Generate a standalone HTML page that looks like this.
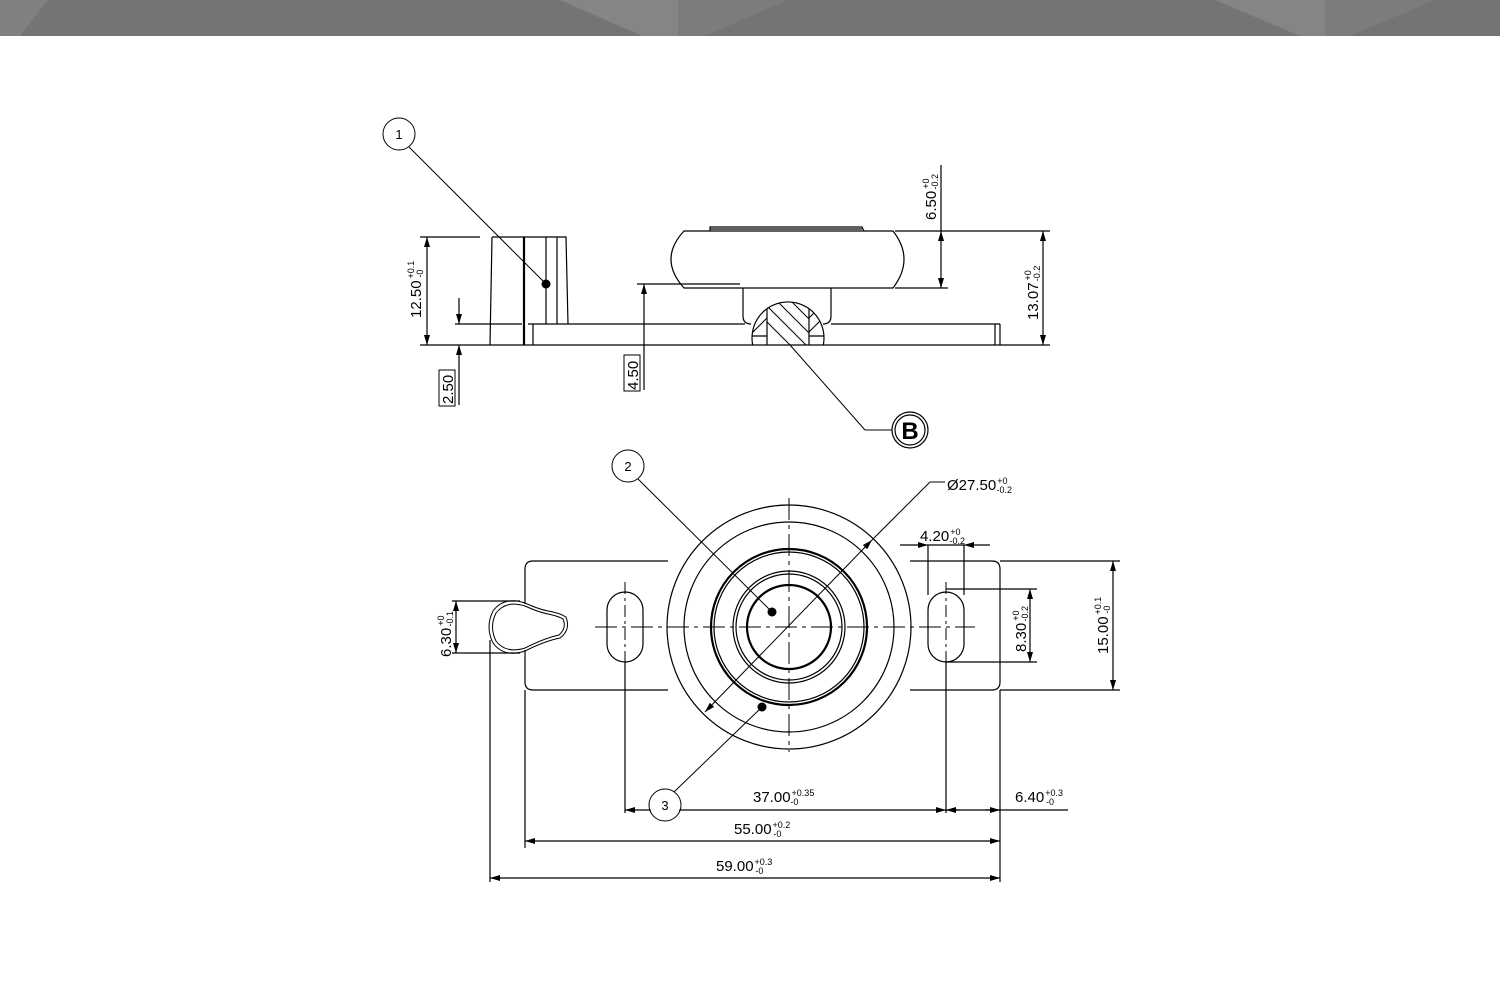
<!DOCTYPE html>
<html><head><meta charset="utf-8"><style>
html,body{margin:0;padding:0;background:#fff;width:1500px;height:1000px;overflow:hidden}
svg{display:block}
text{font-family:"Liberation Sans",sans-serif;fill:#000}
</style></head><body>
<svg width="1500" height="1000" viewBox="0 0 1500 1000" xmlns="http://www.w3.org/2000/svg">
<defs>
<marker id="a" viewBox="0 0 10 6" refX="10" refY="3" markerWidth="10" markerHeight="6" markerUnits="userSpaceOnUse" orient="auto-start-reverse"><path d="M0,0L10,3L0,6z" fill="#000"/></marker>
<clipPath id="ball"><path d="M752.7,345 A36,36 0 1 1 823.3,345 Z"/></clipPath>
</defs>
<!-- banner -->
<rect x="0" y="0" width="1500" height="36" fill="#747474"/>
<polygon points="0,0 48,0 20,36 0,36" fill="#808080"/>
<polygon points="560,0 678,0 678,36 642,36" fill="#858585"/>
<polygon points="678,0 788,0 705,36 678,36" fill="#7c7c7c"/>
<polygon points="1215,0 1325,0 1325,36 1300,36" fill="#858585"/>
<polygon points="1325,0 1435,0 1350,36 1325,36" fill="#7c7c7c"/>

<g stroke="#000" fill="none" stroke-width="1.2">
<!-- TOP VIEW -->
<line x1="420" y1="345" x2="1050" y2="345"/>
<line x1="455" y1="324" x2="522" y2="324"/>
<line x1="528" y1="324" x2="745" y2="324"/>
<line x1="831" y1="324" x2="1000" y2="324"/>
<line x1="533" y1="324" x2="533" y2="345"/>
<line x1="995" y1="324" x2="995" y2="345"/>
<line x1="1000" y1="324" x2="1000" y2="345"/>
<line x1="420" y1="237" x2="480" y2="237"/>
<path d="M492,237 L490,345 M492,237 L566,237 L568,324"/>
<line x1="524" y1="237" x2="524" y2="345" stroke-width="2.2"/>
<line x1="546" y1="237" x2="546" y2="324"/>
<line x1="557" y1="237" x2="557" y2="324"/>
<path d="M684,231 L893,231 Q915,259 893,288 L684,288 Q658,259 684,231 Z"/>
<path d="M710,231 L710,227 L862,227 L864,231"/>
<line x1="710" y1="229" x2="862" y2="229"/>
<path d="M743,288 L743,316 Q743,324 751,324 M831,288 L831,316 Q831,324 823,324"/>
<path d="M752.7,345 A36,36 0 1 1 823.3,345"/>
<g clip-path="url(#ball)">
<line x1="767" y1="300" x2="767" y2="345"/><line x1="809" y1="300" x2="809" y2="345"/>
<line x1="752" y1="336" x2="767" y2="336"/><line x1="809" y1="336" x2="824" y2="336"/>
<path d="M767,306 L806,345 M775,299 L809,333 M789,299 L809,319 M767,322 L790,345 M750,335 L767,318 M809,318 L826,301 M809,332 L826,315" stroke-width="1"/>
</g>
<line x1="790" y1="345" x2="865" y2="430" stroke-width="1"/>
<line x1="865" y1="430" x2="892" y2="430" stroke-width="1"/>
<circle cx="910" cy="430" r="18"/><circle cx="910" cy="430" r="15"/>
<circle cx="399" cy="134" r="16" stroke-width="1"/>
<line x1="409" y1="147" x2="546" y2="284" stroke-width="1"/>
<line x1="427" y1="237" x2="427" y2="345" marker-start="url(#a)" marker-end="url(#a)"/>
<line x1="459" y1="298" x2="459" y2="324" marker-end="url(#a)"/>
<line x1="459" y1="405" x2="459" y2="345" marker-end="url(#a)"/>
<line x1="637" y1="284" x2="740" y2="284"/>
<line x1="644" y1="390" x2="644" y2="284" marker-end="url(#a)"/>
<line x1="941" y1="165" x2="941" y2="231"/>
<line x1="941" y1="231" x2="941" y2="288" marker-start="url(#a)" marker-end="url(#a)"/>
<line x1="895" y1="231" x2="1050" y2="231"/>
<line x1="895" y1="288" x2="948" y2="288"/>
<line x1="1043" y1="231" x2="1043" y2="345" marker-start="url(#a)" marker-end="url(#a)"/>

<!-- BOTTOM VIEW -->
<path d="M533,561 L668,561 M910,561 L992,561 Q1000,561 1000,569 L1000,682 Q1000,690 992,690 L910,690 M668,690 L533,690 Q525,690 525,682 L525,650 M525,604 L525,569 Q525,561 533,561"/>
<circle cx="789" cy="627" r="122" fill="#fff"/>
<circle cx="789" cy="627" r="105"/>
<circle cx="789" cy="627" r="78" stroke-width="2.2"/>
<circle cx="789" cy="627" r="75"/>
<circle cx="789" cy="627" r="56"/>
<circle cx="789" cy="627" r="53"/>
<circle cx="789" cy="627" r="42" stroke-width="2.2"/>
<rect x="607" y="592" width="36" height="70" rx="18"/>
<rect x="928" y="592" width="36" height="70" rx="18"/>
<!-- keyhole double line -->
<path d="M525,603 Q504,596 493,611 Q485,627 493,643 Q504,658 525,651 Q545,641 560,638 Q571,630 566,617 Q560,613 548,611 Q538,609 525,603 Z" stroke-width="1"/>
<path d="M525,606 Q506,600 496,613 Q489,627 496,641 Q506,654 525,648 Q545,638 559,635 Q567,628 563,619 Q558,616 548,614 Q538,612 525,606 Z" stroke-width="1"/>
<line x1="595" y1="627" x2="975" y2="627" stroke-dasharray="22,5,4,5" stroke-width="1"/>
<line x1="789" y1="498" x2="789" y2="752" stroke-dasharray="22,5,4,5" stroke-width="1"/>
<line x1="625" y1="582" x2="625" y2="662" stroke-dasharray="12,4,3,4" stroke-width="1"/>
<line x1="946" y1="582" x2="946" y2="662" stroke-dasharray="12,4,3,4" stroke-width="1"/>
<line x1="705" y1="712" x2="872" y2="540" marker-start="url(#a)" marker-end="url(#a)" stroke-width="1"/>
<line x1="872" y1="540" x2="930" y2="482" stroke-width="1"/>
<line x1="930" y1="482" x2="945" y2="482" stroke-width="1"/>
<circle cx="628" cy="466" r="16" stroke-width="1"/>
<line x1="638" y1="479" x2="772" y2="612" stroke-width="1"/>
<circle cx="665" cy="805" r="16" stroke-width="1"/>
<line x1="674" y1="792" x2="762" y2="707" stroke-width="1"/>
<line x1="928" y1="545" x2="928" y2="595"/>
<line x1="964" y1="545" x2="964" y2="595"/>
<line x1="900" y1="545" x2="928" y2="545" marker-end="url(#a)"/>
<line x1="990" y1="545" x2="964" y2="545" marker-end="url(#a)"/>
<line x1="928" y1="545" x2="964" y2="545"/>
<line x1="946" y1="589" x2="1037" y2="589"/>
<line x1="946" y1="662" x2="1037" y2="662"/>
<line x1="1030" y1="589" x2="1030" y2="662" marker-start="url(#a)" marker-end="url(#a)"/>
<line x1="1000" y1="561" x2="1120" y2="561"/>
<line x1="1000" y1="690" x2="1120" y2="690"/>
<line x1="1113" y1="561" x2="1113" y2="690" marker-start="url(#a)" marker-end="url(#a)"/>
<line x1="452" y1="601" x2="520" y2="601"/>
<line x1="452" y1="653" x2="520" y2="653"/>
<line x1="456" y1="601" x2="456" y2="653" marker-start="url(#a)" marker-end="url(#a)"/>
<line x1="625" y1="662" x2="625" y2="813"/>
<line x1="946" y1="662" x2="946" y2="813"/>
<line x1="525" y1="690" x2="525" y2="848"/>
<line x1="1000" y1="690" x2="1000" y2="882"/>
<line x1="490" y1="640" x2="490" y2="882"/>
<line x1="625" y1="810" x2="946" y2="810" marker-start="url(#a)" marker-end="url(#a)"/>
<line x1="946" y1="810" x2="1068" y2="810"/>
<line x1="960" y1="810" x2="946" y2="810" marker-end="url(#a)"/>
<line x1="985" y1="810" x2="1000" y2="810" marker-end="url(#a)"/>
<line x1="525" y1="841" x2="1000" y2="841" marker-start="url(#a)" marker-end="url(#a)"/>
<line x1="490" y1="878" x2="1000" y2="878" marker-start="url(#a)" marker-end="url(#a)"/>
</g>
<g fill="#000">
<circle cx="546" cy="284" r="4.5"/>
<circle cx="772" cy="612" r="4.5"/>
<circle cx="762" cy="707" r="4.5"/>
</g>
<circle cx="665" cy="805" r="15" fill="#fff"/>
<g font-size="15">
<text x="399" y="139" text-anchor="middle" font-size="13">1</text>
<text x="628" y="471" text-anchor="middle" font-size="13">2</text>
<text x="665" y="810" text-anchor="middle" font-size="13">3</text>
<text x="910" y="439" text-anchor="middle" font-size="24" font-weight="bold">B</text>
<text transform="translate(421,318) rotate(-90)">12.50<tspan font-size="9" dx="2" dy="-7">+0.1</tspan><tspan font-size="9" dx="-17" dy="9">-0</tspan></text>
<text transform="translate(453,404) rotate(-90)">2.50</text>
<rect x="439" y="370" width="16" height="36" fill="none" stroke="#000" stroke-width="1"/>
<text transform="translate(638,390) rotate(-90)">4.50</text>
<rect x="624" y="355" width="16" height="36" fill="none" stroke="#000" stroke-width="1"/>
<text transform="translate(936,220) rotate(-90)">6.50<tspan font-size="9" dx="2" dy="-7">+0</tspan><tspan font-size="9" dx="-11" dy="9">-0.2</tspan></text>
<text transform="translate(1038,320) rotate(-90)">13.07<tspan font-size="9" dx="2" dy="-7">+0</tspan><tspan font-size="9" dx="-11" dy="9">-0.2</tspan></text>
<text x="947" y="490">Ø27.50<tspan font-size="9" dx="1" dy="-6">+0</tspan><tspan font-size="9" dx="-11" dy="9">-0.2</tspan></text>
<text x="920" y="541">4.20<tspan font-size="9" dx="1" dy="-6">+0</tspan><tspan font-size="9" dx="-11" dy="9">-0.2</tspan></text>
<text transform="translate(1026,652) rotate(-90)">8.30<tspan font-size="9" dx="2" dy="-7">+0</tspan><tspan font-size="9" dx="-11" dy="9">-0.2</tspan></text>
<text transform="translate(1108,654) rotate(-90)">15.00<tspan font-size="9" dx="2" dy="-7">+0.1</tspan><tspan font-size="9" dx="-17" dy="9">-0</tspan></text>
<text transform="translate(451,657) rotate(-90)">6.30<tspan font-size="9" dx="2" dy="-7">+0</tspan><tspan font-size="9" dx="-11" dy="9">-0.1</tspan></text>
<text x="753" y="802">37.00<tspan font-size="9" dx="1" dy="-6">+0.35</tspan><tspan font-size="9" dx="-24" dy="9">-0</tspan></text>
<text x="1015" y="802">6.40<tspan font-size="9" dx="1" dy="-6">+0.3</tspan><tspan font-size="9" dx="-17" dy="9">-0</tspan></text>
<text x="734" y="834">55.00<tspan font-size="9" dx="1" dy="-6">+0.2</tspan><tspan font-size="9" dx="-17" dy="9">-0</tspan></text>
<text x="716" y="871">59.00<tspan font-size="9" dx="1" dy="-6">+0.3</tspan><tspan font-size="9" dx="-17" dy="9">-0</tspan></text>
</g>
</svg>
</body></html>
